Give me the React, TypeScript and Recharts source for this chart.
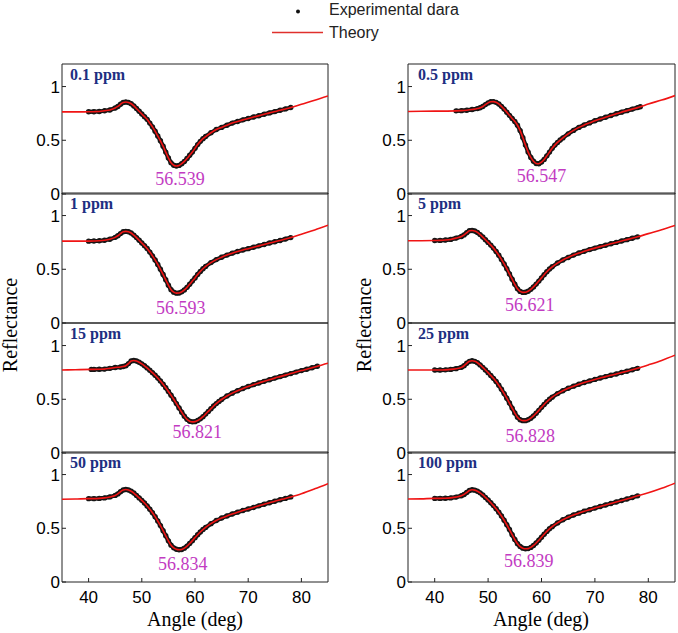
import React from 'react';
import { ComposedChart, Line, XAxis, YAxis, ReferenceDot } from 'recharts';

// ---------- data ----------
const panelNames = ['0.1 ppm', '0.5 ppm', '1 ppm', '5 ppm', '15 ppm', '25 ppm', '50 ppm', '100 ppm'];
const resonanceLabels = ['56.539', '56.547', '56.593', '56.621', '56.821', '56.828', '56.834', '56.839'];
const labelAngles = [57.2, 60.0, 57.3, 57.8, 60.4, 57.9, 57.7, 57.6];
const labelHeights = [0.088, 0.11, 0.085, 0.115, 0.137, 0.106, 0.116, 0.14];

const xTicks = [40, 50, 60, 70, 80];
const yTicks = [0, 0.5, 1];

// angle grids of the measured points
const gridStd = [40, 41, 42, 43, 44, 45, 45.5, 46, 46.5, 47, 47.5, 48, 48.5, 49, 49.5, 50, 50.5, 51, 51.5, 52, 52.5, 53, 53.5, 54, 54.5, 55, 55.5, 56, 56.5, 57, 57.5, 58, 58.5, 59, 59.5, 60, 60.5, 61, 61.5, 62, 63, 64, 65, 66, 67, 68, 69, 70, 71, 72, 73, 74, 75, 76, 77, 78];
const grid05 = [44, 45, 46, 47, 48, 48.5, 49, 49.5, 50, 50.5, 51, 51.5, 52, 52.5, 53, 53.5, 54, 54.5, 55, 55.5, 56, 56.5, 57, 57.5, 58, 58.5, 59, 59.5, 60, 60.5, 61, 61.5, 62, 62.5, 63, 63.5, 64, 65, 66, 67, 68, 69, 70, 71, 72, 73, 74, 75, 76, 77, 78, 78.5];
const grid15 = [40.5, 41, 42, 43, 44, 45, 46, 46.5, 47, 47.5, 48, 48.5, 49, 49.5, 50, 50.5, 51, 51.5, 52, 52.5, 53, 53.5, 54, 54.5, 55, 55.5, 56, 56.5, 57, 57.5, 58, 58.5, 59, 59.5, 60, 60.5, 61, 61.5, 62, 62.5, 63, 63.5, 64, 64.5, 65, 66, 67, 68, 69, 70, 71, 72, 73, 74, 75, 76, 77, 78, 79, 80, 81, 82, 83];

// measured reflectance (experimental data)
const refl01 = [0.765, 0.766, 0.768, 0.775, 0.782, 0.8,
  0.815, 0.835, 0.852, 0.856, 0.852, 0.84, 0.82, 0.796, 0.77, 0.745,
  0.72, 0.695, 0.66, 0.625, 0.585, 0.54, 0.495, 0.445, 0.39, 0.335,
  0.29, 0.268, 0.261, 0.266, 0.282, 0.303, 0.33, 0.36, 0.39, 0.425,
  0.46, 0.49, 0.515, 0.535,
  0.57, 0.6, 0.62, 0.64, 0.66, 0.675, 0.69, 0.703, 0.716, 0.729, 0.742, 0.755, 0.767, 0.779, 0.792, 0.805];
const refl05 = [0.774, 0.776, 0.78, 0.786, 0.795,
  0.803, 0.815, 0.832, 0.848, 0.858, 0.86, 0.853, 0.838, 0.816, 0.79,
  0.762, 0.732, 0.703, 0.675, 0.64, 0.59, 0.525, 0.455, 0.39, 0.34,
  0.305, 0.284, 0.282, 0.297, 0.322, 0.355, 0.39, 0.425, 0.455, 0.48,
  0.502, 0.522,
  0.56, 0.592, 0.62, 0.642, 0.662, 0.682, 0.698, 0.714, 0.73, 0.747, 0.762, 0.776, 0.79, 0.804,
  0.812];
const refl1 = [0.762, 0.763, 0.765, 0.77, 0.78, 0.797,
  0.812, 0.832, 0.85, 0.853, 0.85, 0.838, 0.818, 0.795, 0.77, 0.745,
  0.72, 0.693, 0.66, 0.625, 0.587, 0.545, 0.5, 0.452, 0.402, 0.352,
  0.31, 0.287, 0.278, 0.279, 0.29, 0.308, 0.332, 0.36, 0.39, 0.42,
  0.452, 0.48, 0.505, 0.527,
  0.562, 0.59, 0.612, 0.632, 0.65, 0.665, 0.679, 0.692, 0.705, 0.718, 0.731, 0.744, 0.756, 0.768, 0.781, 0.795];
const refl5 = [0.768, 0.769, 0.772, 0.778, 0.79, 0.805,
  0.82, 0.84, 0.858, 0.861, 0.856, 0.843, 0.823, 0.8, 0.775, 0.75,
  0.725, 0.697, 0.665, 0.63, 0.592, 0.55, 0.505, 0.457, 0.408, 0.36,
  0.318, 0.294, 0.285, 0.286, 0.296, 0.313, 0.336, 0.362, 0.39, 0.42,
  0.45, 0.477, 0.502, 0.523,
  0.558, 0.587, 0.61, 0.632, 0.651, 0.667, 0.683, 0.697, 0.711, 0.724, 0.737, 0.75, 0.763, 0.776, 0.789, 0.802];
const refl15 = [0.778, 0.778, 0.779, 0.781, 0.788, 0.796, 0.8,
  0.805, 0.812, 0.832, 0.857, 0.861, 0.856, 0.845, 0.83, 0.812, 0.792,
  0.77, 0.748, 0.724, 0.698, 0.67, 0.64, 0.607, 0.573, 0.537, 0.5,
  0.46, 0.42, 0.38, 0.343, 0.313, 0.296, 0.29, 0.292, 0.302, 0.318,
  0.338, 0.362, 0.387, 0.412, 0.437, 0.46, 0.48, 0.498,
  0.53, 0.557, 0.58, 0.6, 0.619, 0.636, 0.652, 0.667, 0.682, 0.697, 0.711, 0.725, 0.739, 0.753, 0.767, 0.78, 0.794, 0.808];
const refl25 = [0.772, 0.772, 0.774, 0.778, 0.785, 0.797,
  0.812, 0.835, 0.853, 0.858, 0.853, 0.84, 0.82, 0.797, 0.773, 0.748,
  0.722, 0.695, 0.665, 0.63, 0.593, 0.553, 0.51, 0.465, 0.418, 0.372,
  0.333, 0.31, 0.301, 0.301, 0.309, 0.324, 0.345, 0.37, 0.397, 0.425,
  0.452, 0.477, 0.5, 0.52,
  0.553, 0.58, 0.602, 0.622, 0.64, 0.656, 0.671, 0.685, 0.698, 0.711, 0.723, 0.736, 0.749, 0.761, 0.774, 0.788];
const refl50 = [0.776, 0.776, 0.778, 0.783, 0.792, 0.806,
  0.82, 0.84, 0.857, 0.861, 0.857, 0.845, 0.828, 0.806, 0.783, 0.76,
  0.735, 0.708, 0.678, 0.645, 0.608, 0.568, 0.525, 0.478, 0.43, 0.383,
  0.343, 0.318, 0.305, 0.3, 0.303, 0.315, 0.334, 0.358, 0.385, 0.413,
  0.44, 0.465, 0.488, 0.508,
  0.543, 0.572, 0.595, 0.615, 0.633, 0.65, 0.666, 0.68, 0.694, 0.709, 0.724, 0.738, 0.752, 0.765, 0.778, 0.792];
const refl100 = [0.778, 0.778, 0.779, 0.783, 0.79, 0.803,
  0.815, 0.833, 0.851, 0.858, 0.855, 0.845, 0.83, 0.81, 0.787, 0.763,
  0.738, 0.711, 0.682, 0.65, 0.614, 0.575, 0.533, 0.488, 0.44, 0.395,
  0.356, 0.33, 0.315, 0.309, 0.311, 0.322, 0.34, 0.363, 0.389, 0.417,
  0.445, 0.471, 0.495, 0.515,
  0.55, 0.579, 0.603, 0.623, 0.641, 0.658, 0.673, 0.688, 0.703, 0.717, 0.731, 0.745, 0.759, 0.773, 0.787, 0.802];

// theory curve outside the measured range
const tailLeftAngles = [35, 37.5];
const tailRightAngles = [80, 82.5, 85];
const tailRightAngles15 = [84, 85];
const tailLeft = [
  [0.764, 0.764], [0.768, 0.77], [0.762, 0.762], [0.765, 0.766],
  [0.772, 0.775], [0.772, 0.772], [0.77, 0.772], [0.772, 0.774],
];
const tailRight = [
  [0.835, 0.872, 0.912], [0.838, 0.874, 0.916], [0.827, 0.866, 0.91], [0.832, 0.868, 0.908],
  [0.822, 0.835], [0.82, 0.862, 0.91], [0.822, 0.867, 0.916], [0.83, 0.872, 0.92],
];

const panelGrids = [gridStd, grid05, gridStd, gridStd, grid15, gridStd, gridStd, gridStd];
const panelRefl = [refl01, refl05, refl1, refl5, refl15, refl25, refl50, refl100];
const panelTailRightAngles = [tailRightAngles, tailRightAngles, tailRightAngles, tailRightAngles, tailRightAngles15, tailRightAngles, tailRightAngles, tailRightAngles];

// ---------- layout ----------
const COL_LEFT = [62, 408];
const COL_W = [266, 267];
const ROW_TOP = [64, 193, 323, 452];
const PLOT_H = 130;
const Y_AXIS_W = 40;
const AXIS = '#222';
const RED = '#f01414';
const DOT = '#161616';
const SANS = '"Liberation Sans", Arial, sans-serif';
const SERIF = '"Liberation Serif", "Times New Roman", serif';

const tickStyle = { fontSize: 17, fill: '#000', fontFamily: SANS };

function Panel({ index }: { index: number }) {
  const col = index % 2;
  const row = Math.floor(index / 2);
  const exp = panelGrids[index].map((a, i) => ({ a, r: panelRefl[index][i] }));
  const theory = [
    ...tailLeftAngles.map((a, i) => ({ a, r: tailLeft[index][i] })),
    ...exp,
    ...panelTailRightAngles[index].map((a, i) => ({ a, r: tailRight[index][i] })),
  ];
  const isBottom = row === 3;
  const bottomH = isBottom ? 45 : 1;
  const mb = isBottom ? 0 : 14;
  const w = Y_AXIS_W + COL_W[col] + 1 + 2;
  const h = 1 + PLOT_H + bottomH + mb;
  const label = resonanceLabels[index];
  return (
    <div style={{ position: 'absolute', left: COL_LEFT[col] - Y_AXIS_W, top: ROW_TOP[row] - 1, width: w, height: h }}>
      {/* frame, ticks and experimental markers */}
      <div style={{ position: 'absolute', left: 0, top: 0 }}>
        <ComposedChart width={w} height={h} margin={{ top: 0, right: 2, bottom: mb, left: 0 }}>
          <XAxis
            xAxisId="b"
            dataKey="a"
            type="number"
            orientation="bottom"
            domain={[35, 85]}
            allowDataOverflow
            ticks={xTicks}
            interval={0}
            height={bottomH}
            tickSize={-4}
            tickMargin={13}
            tick={isBottom ? tickStyle : false}
            stroke={AXIS}
          />
          <XAxis
            xAxisId="t"
            type="number"
            orientation="top"
            domain={[35, 85]}
            allowDataOverflow
            ticks={xTicks}
            interval={0}
            height={1}
            tickSize={-4}
            tick={false}
            stroke={AXIS}
          />
          <YAxis
            yAxisId="l"
            dataKey="r"
            type="number"
            domain={[0, 1.21]}
            allowDataOverflow
            ticks={yTicks}
            interval={0}
            width={Y_AXIS_W}
            tickSize={-4}
            tickMargin={6}
            tick={tickStyle}
            stroke={AXIS}
          />
          <YAxis
            yAxisId="rt"
            type="number"
            orientation="right"
            domain={[0, 1.21]}
            allowDataOverflow
            ticks={yTicks}
            interval={0}
            width={1}
            tickSize={-4}
            tick={false}
            stroke={AXIS}
          />
          <Line
            xAxisId="b"
            yAxisId="l"
            data={exp}
            dataKey="r"
            type="linear"
            stroke={DOT}
            strokeWidth={4.2}
            dot={(p: any) => <circle key={p.index} cx={p.cx} cy={p.cy} r={2.7} fill={DOT} />}
            activeDot={false}
            isAnimationActive={false}
          />
        </ComposedChart>
      </div>
      {/* theory curve and resonance label, drawn over the markers */}
      <div style={{ position: 'absolute', left: 0, top: 0 }}>
        <ComposedChart
          width={w}
          height={h}
          margin={{ top: 1, right: 3, bottom: mb + bottomH, left: Y_AXIS_W }}
        >
          <XAxis xAxisId="b" dataKey="a" type="number" domain={[35, 85]} allowDataOverflow hide />
          <YAxis yAxisId="l" dataKey="r" type="number" domain={[0, 1.21]} allowDataOverflow hide />
          <Line
            xAxisId="b"
            yAxisId="l"
            data={theory}
            dataKey="r"
            type="monotone"
            stroke={RED}
            strokeWidth={1.6}
            dot={false}
            activeDot={false}
            isAnimationActive={false}
          />
          <ReferenceDot
            xAxisId="b"
            yAxisId="l"
            x={labelAngles[index]}
            y={labelHeights[index]}
            r={0}
            shape={(p: any) => (
              <text x={p.cx} y={p.cy} textAnchor="middle" fontFamily={SERIF} fontSize={18} fill="#c23bc2">
                {label}
              </text>
            )}
          />
        </ComposedChart>
      </div>
    </div>
  );
}

export default function App() {
  return (
    <div style={{ position: 'absolute', left: 0, top: 0, width: 678, height: 633, background: '#fff' }}>
      {panelNames.map((_, i) => (
        <Panel key={i} index={i} />
      ))}
      <svg width={678} height={633} style={{ position: 'absolute', left: 0, top: 0, pointerEvents: 'none' }}>
        {/* legend */}
        <circle cx={298} cy={11.5} r={2} fill="#111" />
        <text x={329} y={15} fontFamily={SANS} fontSize={16} fill="#222">Experimental dara</text>
        <line x1={272} x2={323} y1={32.5} y2={32.5} stroke="#e0302c" strokeWidth={1.6} />
        <text x={329} y={38} fontFamily={SANS} fontSize={16} fill="#222">Theory</text>
        {/* panel names */}
        {panelNames.map((name, i) => {
          const col = i % 2;
          const row = Math.floor(i / 2);
          return (
            <text
              key={name}
              x={COL_LEFT[col] + (col === 0 ? 8 : 10)}
              y={ROW_TOP[row] + 15.5}
              fontFamily={SERIF}
              fontWeight="bold"
              fontSize={16}
              fill="#1e2f82"
            >
              {name}
            </text>
          );
        })}
        {/* axis titles */}
        <text x={17} y={325} transform="rotate(-90 17 325)" textAnchor="middle" fontFamily={SERIF} fontSize={20} fill="#000">Reflectance</text>
        <text x={371} y={325} transform="rotate(-90 371 325)" textAnchor="middle" fontFamily={SERIF} fontSize={20} fill="#000">Reflectance</text>
        <text x={195} y={626} textAnchor="middle" fontFamily={SERIF} fontSize={20} fill="#000">Angle (deg)</text>
        <text x={541} y={626} textAnchor="middle" fontFamily={SERIF} fontSize={20} fill="#000">Angle (deg)</text>
      </svg>
    </div>
  );
}
